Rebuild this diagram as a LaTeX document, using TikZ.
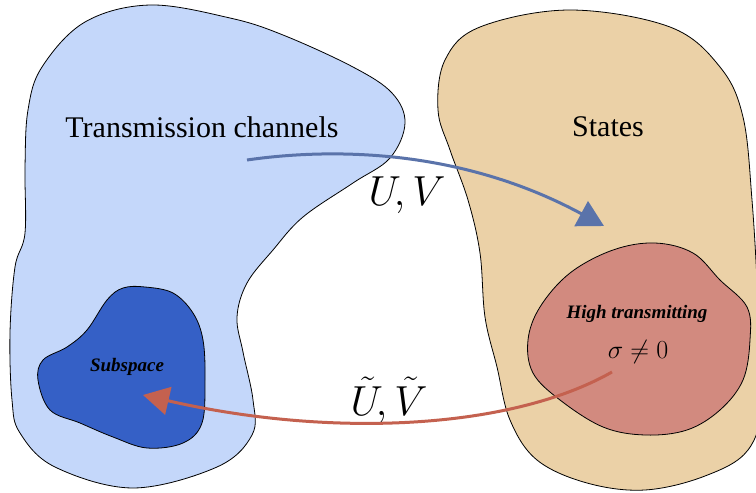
\RequirePackage{fix-cm}
\documentclass[tikz,border=0pt]{standalone}
\usepackage{fontspec}
\setmainfont{Liberation Serif}
\usetikzlibrary{arrows.meta}
\definecolor{lightblue}{HTML}{C4D7FA}
\definecolor{sand}{HTML}{EBD1A7}
\definecolor{rose}{HTML}{D28A7F}
\definecolor{deepblue}{HTML}{3560C6}
\definecolor{arrowblue}{HTML}{5A73AA}
\definecolor{arrowred}{HTML}{C4614F}
\tikzset{
  blob/.style={draw=black, line width=0.8pt},
  maparrow/.style={line width=3pt, -{Triangle[length=26pt,width=28pt]}},
  bigtitle/.style={font=\fontsize{30}{36}\selectfont},
  smalltitle/.style={font=\fontsize{19}{23}\selectfont\bfseries\itshape},
  maplabel/.style={font=\fontsize{42}{50}\selectfont, anchor=base},
}
\begin{document}
\begin{tikzpicture}[x=1pt,y=-1pt]
\useasboundingbox (0,0) rectangle (756,493);
\clip (0,0) rectangle (756,493);
\fill[white] (0,0) rectangle (756,493);
% light blue region
\draw[blob, fill=lightblue] plot[smooth cycle, tension=0.6] coordinates {
 (150,5) (230,18) (283,35) (353,67) (392,93) (405,123) (390,158) (353,183)
 (303,217) (273,250) (247,283) (237,317) (243,352) (253,400) (252,435)
 (217,467) (133,488) (55,467) (20,433) (12,400) (10,333) (15,267) (25,233)
 (25,167) (28,110) (42,67) (85,22)};
% sand region
\draw[blob, fill=sand] plot[smooth cycle, tension=0.6] coordinates {
 (570,10) (670,27) (720,67) (743,117) (752,200) (758,300) (762,400)
 (748,450) (705,476) (645,490) (587,483) (537,460) (510,420) (497,367)
 (485,317) (480,253) (468,200) (450,150) (438,110) (445,60) (480,27)};
% rose region
\draw[blob, fill=rose] plot[smooth cycle, tension=0.6] coordinates {
 (655,243) (693,253) (720,280) (747,307) (750,340) (743,380) (720,410)
 (687,430) (645,435) (603,427) (560,400) (533,373) (528,340) (540,307)
 (570,273) (613,250)};
% deep blue region
\draw[blob, fill=deepblue] plot[smooth cycle, tension=0.6] coordinates {
 (145,287) (173,293) (193,313) (203,340) (205,380) (202,423) (183,443)
 (147,448) (113,437) (80,423) (50,410) (38,380) (43,360) (67,347)
 (87,330) (107,300) (123,288)};
% labels
\node[bigtitle] (tc) at (202,127) {Transmission channels};
\node[bigtitle] (st) at (608,127) {States};
\node[smalltitle] (sub) at (127,367) {Subspace};
\node[smalltitle] (hi) at (637,314) {High transmitting};
\node[font=\fontsize{26}{31}\selectfont] (sig) at (638,352) {$\sigma\neq 0$};
\node[maplabel] (uv) at (407,205) {$U\!,V$};
\node[maplabel] (uvt) at (389,415) {$\tilde U\!,\tilde V$};
% arrows
\coordinate (bs) at (247,160);
\coordinate (be) at (604,226);
\coordinate (rs) at (612,372);
\coordinate (re) at (143,395);
\draw[maparrow, draw=arrowblue] (bs) .. controls (330,148) and (460,148) .. (be);
\draw[maparrow, draw=arrowred] (rs) .. controls (510,430) and (330,438) .. (re);
\end{tikzpicture}
\end{document}
